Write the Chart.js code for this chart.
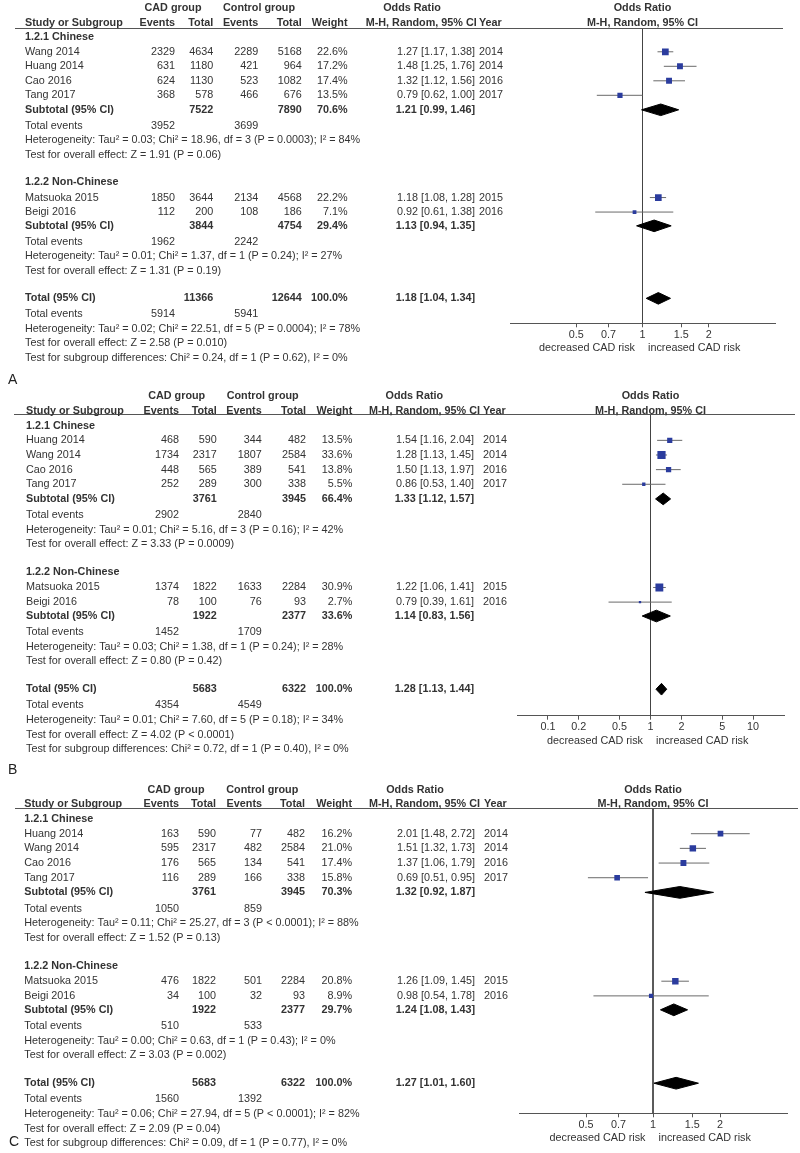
<!DOCTYPE html>
<html>
<head>
<meta charset="utf-8">
<script src="https://cdn.jsdelivr.net/npm/chart.js@4.4.1/dist/chart.umd.min.js"></script>
<style>
html, body { margin: 0; padding: 0; background: #fff; }
canvas { display: block; }
</style>
</head>
<body>
<canvas id="panelA" width="800" height="388"></canvas>
<canvas id="panelB" width="800" height="390"></canvas>
<canvas id="panelC" width="800" height="375"></canvas>
<script>
// ---- panel A ----
const studiesA = ["Wang 2014", "Huang 2014", "Cao 2016", "Tang 2017", "Matsuoka 2015", "Beigi 2016"];
const yearsA = [2014, 2014, 2016, 2017, 2015, 2016];
const cadEventsA = [2329, 631, 624, 368, 1850, 112];
const cadTotalA = [4634, 1180, 1130, 578, 3644, 200];
const ctrlEventsA = [2289, 421, 523, 466, 2134, 108];
const ctrlTotalA = [5168, 964, 1082, 676, 4568, 186];
const weightA = [22.6, 17.2, 17.4, 13.5, 22.2, 7.1];
const orA = [1.27, 1.48, 1.32, 0.79, 1.18, 0.92];
const lowerA = [1.17, 1.25, 1.12, 0.62, 1.08, 0.61];
const upperA = [1.38, 1.76, 1.56, 1.00, 1.28, 1.38];
// pooled rows: Chinese subtotal, Non-Chinese subtotal, overall total
const pooledCadTotalA = [7522, 3844, 11366];
const pooledCtrlTotalA = [7890, 4754, 12644];
const pooledCadEventsA = [3952, 1962, 5914];
const pooledCtrlEventsA = [3699, 2242, 5941];
const pooledWeightA = [70.6, 29.4, 100.0];
const pooledOrA = [1.21, 1.13, 1.18];
const pooledLowerA = [0.99, 0.94, 1.04];
const pooledUpperA = [1.46, 1.35, 1.34];
const heterogeneityA = [
  "Tau² = 0.03; Chi² = 18.96, df = 3 (P = 0.0003); I² = 84%",
  "Tau² = 0.01; Chi² = 1.37, df = 1 (P = 0.24); I² = 27%",
  "Tau² = 0.02; Chi² = 22.51, df = 5 (P = 0.0004); I² = 78%"
];
const overallEffectA = ["Z = 1.91 (P = 0.06)", "Z = 1.31 (P = 0.19)", "Z = 2.58 (P = 0.010)"];
const subgroupTestA = "Chi² = 0.24, df = 1 (P = 0.62), I² = 0%";
const ticksA = [0.5, 0.7, 1, 1.5, 2];

// ---- panel B ----
const studiesB = ["Huang 2014", "Wang 2014", "Cao 2016", "Tang 2017", "Matsuoka 2015", "Beigi 2016"];
const yearsB = [2014, 2014, 2016, 2017, 2015, 2016];
const cadEventsB = [468, 1734, 448, 252, 1374, 78];
const cadTotalB = [590, 2317, 565, 289, 1822, 100];
const ctrlEventsB = [344, 1807, 389, 300, 1633, 76];
const ctrlTotalB = [482, 2584, 541, 338, 2284, 93];
const weightB = [13.5, 33.6, 13.8, 5.5, 30.9, 2.7];
const orB = [1.54, 1.28, 1.50, 0.86, 1.22, 0.79];
const lowerB = [1.16, 1.13, 1.13, 0.53, 1.06, 0.39];
const upperB = [2.04, 1.45, 1.97, 1.40, 1.41, 1.61];
const pooledCadTotalB = [3761, 1922, 5683];
const pooledCtrlTotalB = [3945, 2377, 6322];
const pooledCadEventsB = [2902, 1452, 4354];
const pooledCtrlEventsB = [2840, 1709, 4549];
const pooledWeightB = [66.4, 33.6, 100.0];
const pooledOrB = [1.33, 1.14, 1.28];
const pooledLowerB = [1.12, 0.83, 1.13];
const pooledUpperB = [1.57, 1.56, 1.44];
const heterogeneityB = [
  "Tau² = 0.01; Chi² = 5.16, df = 3 (P = 0.16); I² = 42%",
  "Tau² = 0.03; Chi² = 1.38, df = 1 (P = 0.24); I² = 28%",
  "Tau² = 0.01; Chi² = 7.60, df = 5 (P = 0.18); I² = 34%"
];
const overallEffectB = ["Z = 3.33 (P = 0.0009)", "Z = 0.80 (P = 0.42)", "Z = 4.02 (P < 0.0001)"];
const subgroupTestB = "Chi² = 0.72, df = 1 (P = 0.40), I² = 0%";
const ticksB = [0.1, 0.2, 0.5, 1, 2, 5, 10];

// ---- panel C ----
const studiesC = ["Huang 2014", "Wang 2014", "Cao 2016", "Tang 2017", "Matsuoka 2015", "Beigi 2016"];
const yearsC = [2014, 2014, 2016, 2017, 2015, 2016];
const cadEventsC = [163, 595, 176, 116, 476, 34];
const cadTotalC = [590, 2317, 565, 289, 1822, 100];
const ctrlEventsC = [77, 482, 134, 166, 501, 32];
const ctrlTotalC = [482, 2584, 541, 338, 2284, 93];
const weightC = [16.2, 21.0, 17.4, 15.8, 20.8, 8.9];
const orC = [2.01, 1.51, 1.37, 0.69, 1.26, 0.98];
const lowerC = [1.48, 1.32, 1.06, 0.51, 1.09, 0.54];
const upperC = [2.72, 1.73, 1.79, 0.95, 1.45, 1.78];
const pooledCadTotalC = [3761, 1922, 5683];
const pooledCtrlTotalC = [3945, 2377, 6322];
const pooledCadEventsC = [1050, 510, 1560];
const pooledCtrlEventsC = [859, 533, 1392];
const pooledWeightC = [70.3, 29.7, 100.0];
const pooledOrC = [1.32, 1.24, 1.27];
const pooledLowerC = [0.92, 1.08, 1.01];
const pooledUpperC = [1.87, 1.43, 1.60];
const heterogeneityC = [
  "Tau² = 0.11; Chi² = 25.27, df = 3 (P < 0.0001); I² = 88%",
  "Tau² = 0.00; Chi² = 0.63, df = 1 (P = 0.43); I² = 0%",
  "Tau² = 0.06; Chi² = 27.94, df = 5 (P < 0.0001); I² = 82%"
];
const overallEffectC = ["Z = 1.52 (P = 0.13)", "Z = 3.03 (P = 0.002)", "Z = 2.09 (P = 0.04)"];
const subgroupTestC = "Chi² = 0.09, df = 1 (P = 0.77), I² = 0%";
const ticksC = [0.5, 0.7, 1, 1.5, 2];

const groupNames = ["1.2.1 Chinese", "1.2.2 Non-Chinese"];
const pooledNames = ["Subtotal (95% CI)", "Subtotal (95% CI)", "Total (95% CI)"];
const NULL_EFFECT = 1;

// row layout (shared by the three panels), in row units
const groupRows = [0, 10];
const studyRows = [1, 2, 3, 4, 11.05, 12.05];
const pooledRows = [5, 13, 18];
const DIAMOND_H = 0.4;

const FONT = '"Liberation Sans", Arial, sans-serif';
const FS = 10.8;
const TEXT = '#333333';
const BLUE = '#2b3c9e';
const LINE = '#6a6a6a';

const layoutA = {
  yMin: -0.62, yMax: 19.72, chartTop: 28.3, chartBottom: 323.3,
  xMin: 0.25, xMax: 4, plotLeft: 510, plotRight: 775, lineLeft: 15, lineRight: 783,
  cols: {name: 25, cadEv: 175, cadTot: 213.3, ctrlEv: 258.3, ctrlTot: 301.7, weight: 347.5, or: 475, orHead: 476.7, year: 479,
         cadHead: 173, ctrlHead: 259, orTitle: 412},
  letter: {text: "A", x: 8, y: 380}
};
const layoutB = {
  yMin: -0.78, yMax: 19.81, chartTop: 26.3, chartBottom: 327.7,
  xMin: 0.05, xMax: 20, plotLeft: 517, plotRight: 784, lineLeft: 14, lineRight: 795,
  cols: {name: 26, cadEv: 179, cadTot: 216.7, ctrlEv: 261.7, ctrlTot: 306, weight: 352.3, or: 474, orHead: 480, year: 483,
         cadHead: 176.7, ctrlHead: 262.7, orTitle: 414.3},
  letter: {text: "B", x: 8, y: 382}
};
const layoutC = {
  yMin: -0.73, yMax: 20.05, chartTop: 30.3, chartBottom: 335.3,
  xMin: 0.25, xMax: 4, plotLeft: 519, plotRight: 787, lineLeft: 15, lineRight: 798,
  cols: {name: 24.3, cadEv: 179, cadTot: 216, ctrlEv: 262, ctrlTot: 305, weight: 352, or: 475, orHead: 480, year: 484,
         cadHead: 176, ctrlHead: 262.3, orTitle: 415},
  letter: {text: "C", x: 9, y: 363.7}
};

const AXIS_H = 30;

function orLabel(o, l, u) {
  return o.toFixed(2) + " [" + l.toFixed(2) + ", " + u.toFixed(2) + "]";
}

function makePanel(id, d, L) {
  const canvas = document.getElementById(id);
  const ctxMain = canvas.getContext("2d");

  const squares = {
    data: d.or.map((v, i) => ({x: v, y: studyRows[i]})),
    pointStyle: 'rect',
    pointRadius: d.weight.map(w => Math.sqrt(w)),
    backgroundColor: BLUE, borderWidth: 0, order: 0
  };
  const diamonds = d.pooledOr.map((v, k) => {
    const r = pooledRows[k];
    return {
      data: [
        {x: d.pooledLower[k], y: r}, {x: v, y: r - DIAMOND_H},
        {x: d.pooledUpper[k], y: r}, {x: v, y: r + DIAMOND_H},
        {x: d.pooledLower[k], y: r}
      ],
      showLine: true, fill: 'shape', backgroundColor: '#000', borderColor: '#000',
      borderWidth: 1, pointRadius: 0, order: 1
    };
  });
  const whiskers = d.lower.map((lo, i) => ({
    data: [{x: lo, y: studyRows[i]}, {x: d.upper[i], y: studyRows[i]}],
    showLine: true, borderColor: LINE, borderWidth: 1, pointRadius: 0, order: 2
  }));
  const refLine = {
    data: [{x: NULL_EFFECT, y: L.yMin}, {x: NULL_EFFECT, y: L.yMax}],
    showLine: true, borderColor: '#444', borderWidth: 1, pointRadius: 0, order: 3
  };

  const tablePlugin = {
    id: 'forestTable',
    afterDraw(chart) {
      const ctx = chart.ctx;
      const ys = chart.scales.y, xs = chart.scales.x, area = chart.chartArea;
      const C = L.cols;
      const put = (str, px, row, align, bold) => {
        ctx.font = (bold ? 'bold ' : '') + FS + 'px ' + FONT;
        ctx.textAlign = align;
        ctx.fillText(String(str), px, ys.getPixelForValue(row));
      };
      ctx.save();
      ctx.fillStyle = TEXT;
      ctx.textBaseline = 'middle';

      // header line
      ctx.strokeStyle = '#555';
      ctx.lineWidth = 1;
      const hy = Math.round(area.top) + 0.5;
      ctx.beginPath(); ctx.moveTo(L.lineLeft, hy); ctx.lineTo(L.lineRight, hy); ctx.stroke();

      // headers
      const plotMid = (area.left + area.right) / 2;
      put("CAD group", C.cadHead, -2, 'center', true);
      put("Control group", C.ctrlHead, -2, 'center', true);
      put("Odds Ratio", C.orTitle, -2, 'center', true);
      put("Odds Ratio", plotMid, -2, 'center', true);
      put("Study or Subgroup", C.name, -1, 'left', true);
      put("Events", C.cadEv, -1, 'right', true);
      put("Total", C.cadTot, -1, 'right', true);
      put("Events", C.ctrlEv, -1, 'right', true);
      put("Total", C.ctrlTot, -1, 'right', true);
      put("Weight", C.weight, -1, 'right', true);
      put("M-H, Random, 95% CI", C.orHead, -1, 'right', true);
      put("Year", C.year, -1, 'left', true);
      put("M-H, Random, 95% CI", plotMid, -1, 'center', true);

      groupNames.forEach((g, k) => put(g, C.name, groupRows[k], 'left', true));

      d.studies.forEach((s, i) => {
        const r = studyRows[i];
        put(s, C.name, r, 'left', false);
        put(d.cadEvents[i], C.cadEv, r, 'right', false);
        put(d.cadTotal[i], C.cadTot, r, 'right', false);
        put(d.ctrlEvents[i], C.ctrlEv, r, 'right', false);
        put(d.ctrlTotal[i], C.ctrlTot, r, 'right', false);
        put(d.weight[i].toFixed(1) + "%", C.weight, r, 'right', false);
        put(orLabel(d.or[i], d.lower[i], d.upper[i]), C.or, r, 'right', false);
        put(d.years[i], C.year, r, 'left', false);
      });

      pooledNames.forEach((p, k) => {
        const r = pooledRows[k];
        put(p, C.name, r, 'left', true);
        put(d.pooledCadTotal[k], C.cadTot, r, 'right', true);
        put(d.pooledCtrlTotal[k], C.ctrlTot, r, 'right', true);
        put(d.pooledWeight[k].toFixed(1) + "%", C.weight, r, 'right', true);
        put(orLabel(d.pooledOr[k], d.pooledLower[k], d.pooledUpper[k]), C.or, r, 'right', true);
        put("Total events", C.name, r + 1.1, 'left', false);
        put(d.pooledCadEvents[k], C.cadEv, r + 1.1, 'right', false);
        put(d.pooledCtrlEvents[k], C.ctrlEv, r + 1.1, 'right', false);
        put("Heterogeneity: " + d.heterogeneity[k], C.name, r + 2.1, 'left', false);
        put("Test for overall effect: " + d.overall[k], C.name, r + 3.1, 'left', false);
      });
      put("Test for subgroup differences: " + d.subgroupTest, C.name, pooledRows[2] + 4.1, 'left', false);

      // axis captions
      const x1 = xs.getPixelForValue(NULL_EFFECT);
      ctx.font = FS + 'px ' + FONT;
      ctx.textAlign = 'right';
      ctx.fillText("decreased CAD risk", x1 - 7.5, area.bottom + 25);
      ctx.textAlign = 'left';
      ctx.fillText("increased CAD risk", x1 + 5.5, area.bottom + 25);

      // panel letter
      ctx.font = '14px ' + FONT;
      ctx.textAlign = 'left';
      ctx.fillStyle = '#222';
      ctx.fillText(L.letter.text, L.letter.x, L.letter.y);
      ctx.restore();
    }
  };

  return new Chart(ctxMain, {
    type: 'scatter',
    data: {datasets: [squares, ...diamonds, ...whiskers, refLine]},
    options: {
      responsive: false,
      animation: false,
      events: [],
      layout: {
        padding: {
          left: L.plotLeft, right: canvas.width - L.plotRight,
          top: L.chartTop, bottom: canvas.height - L.chartBottom - AXIS_H
        }
      },
      plugins: {legend: {display: false}, tooltip: {enabled: false}},
      scales: {
        x: {
          type: 'logarithmic', min: L.xMin, max: L.xMax,
          afterBuildTicks: s => { s.ticks = d.ticks.map(v => ({value: v})); },
          afterFit: s => { s.height = AXIS_H; },
          ticks: {
            callback: v => String(v), autoSkip: false, maxRotation: 0,
            color: TEXT, padding: 1, font: {family: FONT, size: FS}
          },
          grid: {drawOnChartArea: false, drawTicks: true, tickLength: 4, color: '#555'},
          border: {display: true, color: '#555', width: 1}
        },
        y: {type: 'linear', reverse: true, min: L.yMin, max: L.yMax, display: false}
      }
    },
    plugins: [tablePlugin]
  });
}

makePanel("panelA", {
  studies: studiesA, years: yearsA, cadEvents: cadEventsA, cadTotal: cadTotalA,
  ctrlEvents: ctrlEventsA, ctrlTotal: ctrlTotalA, weight: weightA, or: orA, lower: lowerA, upper: upperA,
  pooledCadTotal: pooledCadTotalA, pooledCtrlTotal: pooledCtrlTotalA, pooledCadEvents: pooledCadEventsA,
  pooledCtrlEvents: pooledCtrlEventsA, pooledWeight: pooledWeightA, pooledOr: pooledOrA,
  pooledLower: pooledLowerA, pooledUpper: pooledUpperA, heterogeneity: heterogeneityA,
  overall: overallEffectA, subgroupTest: subgroupTestA, ticks: ticksA
}, layoutA);

makePanel("panelB", {
  studies: studiesB, years: yearsB, cadEvents: cadEventsB, cadTotal: cadTotalB,
  ctrlEvents: ctrlEventsB, ctrlTotal: ctrlTotalB, weight: weightB, or: orB, lower: lowerB, upper: upperB,
  pooledCadTotal: pooledCadTotalB, pooledCtrlTotal: pooledCtrlTotalB, pooledCadEvents: pooledCadEventsB,
  pooledCtrlEvents: pooledCtrlEventsB, pooledWeight: pooledWeightB, pooledOr: pooledOrB,
  pooledLower: pooledLowerB, pooledUpper: pooledUpperB, heterogeneity: heterogeneityB,
  overall: overallEffectB, subgroupTest: subgroupTestB, ticks: ticksB
}, layoutB);

makePanel("panelC", {
  studies: studiesC, years: yearsC, cadEvents: cadEventsC, cadTotal: cadTotalC,
  ctrlEvents: ctrlEventsC, ctrlTotal: ctrlTotalC, weight: weightC, or: orC, lower: lowerC, upper: upperC,
  pooledCadTotal: pooledCadTotalC, pooledCtrlTotal: pooledCtrlTotalC, pooledCadEvents: pooledCadEventsC,
  pooledCtrlEvents: pooledCtrlEventsC, pooledWeight: pooledWeightC, pooledOr: pooledOrC,
  pooledLower: pooledLowerC, pooledUpper: pooledUpperC, heterogeneity: heterogeneityC,
  overall: overallEffectC, subgroupTest: subgroupTestC, ticks: ticksC
}, layoutC);
</script>
</body>
</html>
